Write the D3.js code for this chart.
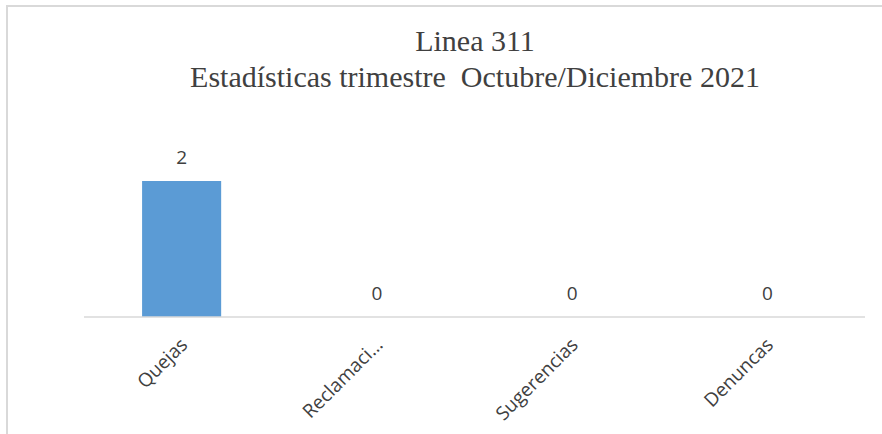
<!DOCTYPE html>
<html>
<head>
<meta charset="utf-8">
<script src="https://cdn.jsdelivr.net/npm/d3@7"></script>
<style>
  body { margin: 0; background: #fff; }
  svg { display: block; }
</style>
</head>
<body>
<svg id="chart"></svg>
<script>
// chart data
var categories = ["Quejas", "Reclamaci…", "Sugerencias", "Denuncas"];
var values = [2, 0, 0, 0];
var titleLines = ["Linea 311", "Estadísticas trimestre  Octubre/Diciembre 2021"];

var width = 882,
    height = 434;

var svg = d3.select("#chart")
    .attr("width", width)
    .attr("height", height);

// outer chart border (runs past the window on right and bottom)
svg.append("rect")
    .attr("x", 7)
    .attr("y", 6)
    .attr("width", 1000)
    .attr("height", 600)
    .attr("fill", "#fff")
    .attr("stroke", "#d9d9d9")
    .attr("stroke-width", 2);

// title
svg.append("g")
    .selectAll("text")
    .data(titleLines)
    .enter().append("text")
    .attr("x", 475)
    .attr("y", function (d, i) { return 51 + i * 36; })
    .attr("text-anchor", "middle")
    .style("font-family", "'Liberation Serif', 'Times New Roman', serif")
    .style("font-size", "30px")
    .style("fill", "#404040")
    .style("white-space", "pre")
    .text(function (d) { return d; });

// scales
var x = d3.scaleBand()
    .domain(categories)
    .range([84, 865])
    .paddingInner(0.595)
    .paddingOuter(0.2975);

var y = d3.scaleLinear()
    .domain([0, 2.5])
    .range([317, 147]);

// bars
svg.append("g")
    .selectAll("rect")
    .data(values)
    .enter().append("rect")
    .attr("x", function (d, i) { return x(categories[i]); })
    .attr("y", function (d) { return y(d); })
    .attr("width", x.bandwidth())
    .attr("height", function (d) { return y(0) - y(d); })
    .attr("fill", "#5b9bd5");

// category axis line
svg.append("line")
    .attr("x1", 84)
    .attr("x2", 865)
    .attr("y1", y(0))
    .attr("y2", y(0))
    .attr("stroke", "#d9d9d9")
    .attr("stroke-width", 1.5);

// value labels
svg.append("g")
    .selectAll("text")
    .data(values)
    .enter().append("text")
    .attr("x", function (d, i) { return x(categories[i]) + x.bandwidth() / 2; })
    .attr("y", function (d) { return y(d) - 17; })
    .attr("text-anchor", "middle")
    .style("font-family", "'Open Sans', sans-serif")
    .style("font-size", "19px")
    .style("fill", "#404040")
    .text(function (d) { return d; });

// rotated category labels
svg.append("g")
    .selectAll("text")
    .data(categories)
    .enter().append("text")
    .attr("transform", function (d) {
        var cx = x(d) + x.bandwidth() / 2 + 7;
        return "translate(" + cx + "," + (y(0) + 29) + ") rotate(-45)";
    })
    .attr("text-anchor", "end")
    .style("font-family", "'Open Sans', sans-serif")
    .style("font-size", "19px")
    .style("fill", "#404040")
    .text(function (d) { return d; });
</script>
</body>
</html>
